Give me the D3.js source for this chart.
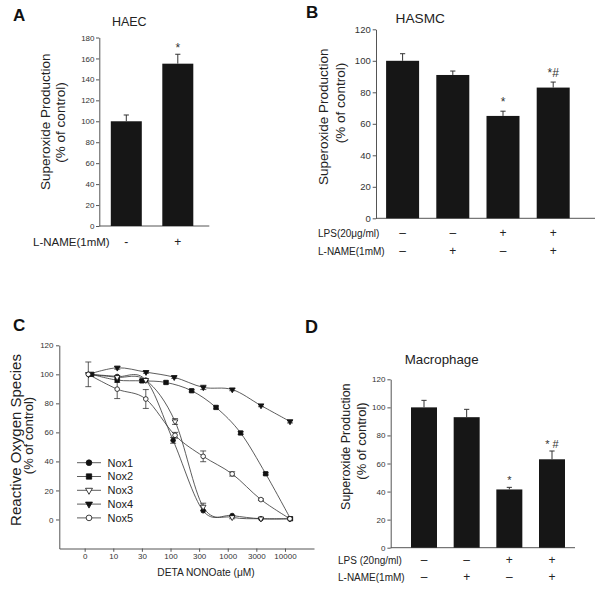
<!DOCTYPE html>
<html><head><meta charset="utf-8">
<script src="https://cdn.jsdelivr.net/npm/d3@7"></script>
<style>
body{margin:0;background:#fff}
svg{display:block;font-family:"Liberation Sans",Arial,Helvetica,sans-serif}
</style>
</head><body>
<svg id="chart" width="600" height="592"></svg>
<script>
// ---------------- DATA ----------------
// Panel A (HAEC)
const aValues = [100, 155];
const aErrTop = [106, 164];
const aMarks = ["", "*"];
const aLName = ["-", "+"];
const aTicks = [0, 20, 40, 60, 80, 100, 120, 140, 160, 180];

// Panel B (HASMC)
const bValues = [100, 91, 65, 83];
const bErrTop = [104.5, 93.5, 68, 86.5];
const bMarks = ["", "", "*", "*#"];
const bLPS = ["\u2013", "\u2013", "+", "+"];
const bLName = ["\u2013", "+", "\u2013", "+"];
const bTicks = [0, 20, 40, 60, 80, 100, 120];

// Panel D (Macrophage)
const dValues = [100, 93, 41.5, 63];
const dErrTop = [105, 98.6, 43, 68.9];
const dMarks = ["", "", "*", "* #"];
const dLPS = ["\u2013", "\u2013", "+", "+"];
const dLName = ["\u2013", "+", "\u2013", "+"];
const dTicks = [0, 20, 40, 60, 80, 100, 120];

// Panel C (ROS vs DETA NONOate, log concentration axis)
const cTickPos = [3.16, 10, 31.6, 100, 316, 1000, 3160, 10000];
const cTickLabels = ["0", "10", "30", "100", "300", "1000", "3000", "10000"];
const cYTicks = [0, 20, 40, 60, 80, 100, 120];
const nox1X = [3.7, 11.7, 37, 111, 372, 1195, 3800, 12200];
const nox1Y = [100, 98.5, 96, 54.5, 6, 2.7, 0.5, 0.5];
const nox1E = [0, 0, 0, 2, 0, 0, 0, 0];
const nox2X = [4.2, 11.7, 31.7, 83.4, 234, 624, 1680, 4600, 12480];
const nox2Y = [100, 96, 95.5, 94.4, 88.7, 77.2, 59.6, 31.5, 0.5];
const nox2E = [0, 1.5, 1, 1, 0.8, 1, 1, 0.8, 0];
const nox3X = [3.7, 11.7, 37, 120, 372, 1195, 3800, 12200];
const nox3Y = [100, 98, 96, 67.5, 8.7, 1.5, 0.5, 0.5];
const nox3E = [0, 0, 0, 2, 2.5, 1, 0, 0];
const nox4X = [3.7, 11.75, 37.3, 116, 374, 1200, 3810, 12250];
const nox4Y = [100, 104.5, 101.5, 98, 91, 89.5, 78.5, 67.5];
const nox4E = [0, 1, 0.8, 0.8, 1.5, 0.8, 0.8, 1];
const nox5X = [3.66, 11.7, 37, 120, 372, 1195, 3800, 12200];
const nox5Y = [100, 89.8, 83, 58, 43.5, 31.4, 13.7, 0.5];
const nox5E = [8.5, 6.5, 6.5, 2, 3.7, 1.5, 0.5, 0];
const seriesNames = ["Nox1", "Nox2", "Nox3", "Nox4", "Nox5"];

// ---------------- DRAWING ----------------
const svg = d3.select("#chart");
const AX = "#555", TXT = "#222", BAR = "#161616";

function styleAxis(sel, fs) {
  sel.attr("font-family", null).attr("font-size", fs);
  sel.select(".domain").attr("stroke", AX);
  sel.selectAll(".tick line").attr("stroke", AX);
  sel.selectAll(".tick text").attr("fill", "#333");
}

function text(g, str, x, y, opt = {}) {
  const t = g.append("text").attr("x", x).attr("y", y).text(str)
    .attr("font-size", opt.fs || 11).attr("fill", opt.fill || TXT)
    .attr("text-anchor", opt.anchor || "start");
  if (opt.bold) t.attr("font-weight", "bold");
  return t;
}
function vtext(g, str, bx, cy, fs) {
  g.append("text").attr("transform", `translate(${bx},${cy}) rotate(-90)`)
    .attr("text-anchor", "middle").attr("font-size", fs).attr("fill", TXT).text(str);
}

function barPanel(o) {
  const g = svg.append("g");
  const y = d3.scaleLinear().domain([0, o.yMax]).range([o.y0, o.y1]);
  const x = d3.scalePoint().domain(d3.range(o.values.length)).range([o.c0, o.c1]);
  const ax = g.append("g").attr("transform", `translate(${o.ax},0)`)
    .call(d3.axisLeft(y).tickValues(o.ticks).tickSize(3.3).tickSizeOuter(0).tickPadding(o.pad));
  styleAxis(ax, o.tickFs);
  g.append("line").attr("x1", o.ax).attr("x2", o.axEnd)
    .attr("y1", y(0)).attr("y2", y(0)).attr("stroke", AX);
  g.selectAll(".bar").data(o.values).join("rect").attr("class", "bar")
    .attr("x", (d, i) => x(i) - o.bw / 2).attr("width", o.bw)
    .attr("y", d => y(d)).attr("height", d => y(0) - y(d)).attr("fill", BAR);
  const eb = g.selectAll(".eb").data(o.errTop).join("g").attr("class", "eb")
    .attr("stroke", "#333").attr("stroke-width", 1);
  eb.append("line").attr("x1", (d, i) => x(i)).attr("x2", (d, i) => x(i))
    .attr("y1", (d, i) => y(o.values[i])).attr("y2", d => y(d));
  eb.append("line").attr("x1", (d, i) => x(i) - 2.6).attr("x2", (d, i) => x(i) + 2.6)
    .attr("y1", d => y(d)).attr("y2", d => y(d));
  o.marks.forEach((m, i) => {
    if (m) text(g, m, x(i) + (o.markDx || 0), y(o.errTop[i]) - o.markGap,
      { fs: o.markFs, anchor: "middle", fill: "#333" });
  });
  o.rows.forEach(r => {
    text(g, r.label, o.rowX, r.y, { fs: o.rowFs });
    r.signs.forEach((s, i) => text(g, s, x(i), r.y, { fs: o.signFs, anchor: "middle" }));
  });
  text(g, o.title, o.titleX, o.titleY, { fs: o.titleFs, anchor: "middle" });
  text(g, o.letter, o.letterX, o.letterY, { fs: o.letterFs, bold: true, fill: "#111" });
  vtext(g, "Superoxide Production", o.l1x, o.l1y, o.labFs);
  vtext(g, "(% of control)", o.l2x, o.l2y, o.labFs2 || o.labFs);
  return g;
}

// Panel A
barPanel({
  values: aValues, errTop: aErrTop, marks: aMarks, ticks: aTicks, yMax: 180,
  y0: 226, y1: 37.5, c0: 126.3, c1: 177.8, bw: 31, ax: 99.3, axEnd: 209.3,
  pad: 1.5, tickFs: 8, markGap: 2.5, markFs: 12,
  rows: [{ label: "L-NAME(1mM)", y: 246, signs: aLName }], rowX: 33, rowFs: 11.5, signFs: 12,
  title: "HAEC", titleX: 129.3, titleY: 26, titleFs: 12.5,
  letter: "A", letterX: 13, letterY: 20.7, letterFs: 17,
  l1x: 49.5, l1y: 121.7, l2x: 65, l2y: 122.5, labFs: 13.5
});

// Panel B
barPanel({
  values: bValues, errTop: bErrTop, marks: bMarks, ticks: bTicks, yMax: 120,
  y0: 218.3, y1: 29.3, c0: 402.6, c1: 553.2, bw: 33, ax: 376, axEnd: 595,
  pad: 2, tickFs: 9.5, markGap: 5.5, markFs: 12,
  rows: [{ label: "LPS(20\u03bcg/ml)", y: 236.8, signs: bLPS },
         { label: "L-NAME(1mM)", y: 254.8, signs: bLName }], rowX: 318, rowFs: 10, signFs: 12,
  title: "HASMC", titleX: 420.3, titleY: 22.7, titleFs: 13.7,
  letter: "B", letterX: 306, letterY: 18.3, letterFs: 17,
  l1x: 328, l1y: 116.7, l2x: 345, l2y: 103, labFs: 13.5
});

// Panel D
barPanel({
  values: dValues, errTop: dErrTop, marks: dMarks, ticks: dTicks, yMax: 120,
  y0: 547.7, y1: 379.3, c0: 424, c1: 552, bw: 26, ax: 390.7, axEnd: 575,
  pad: 2, tickFs: 8, markGap: 3, markFs: 11,
  rows: [{ label: "LPS (20ng/ml)", y: 563.8, signs: dLPS },
         { label: "L-NAME(1mM)", y: 580.8, signs: dLName }], rowX: 338, rowFs: 10, signFs: 12,
  title: "Macrophage", titleX: 441.7, titleY: 364, titleFs: 13.3,
  letter: "D", letterX: 305, letterY: 332.7, letterFs: 18,
  l1x: 349.6, l1y: 446.7, l2x: 366, l2y: 441, labFs: 12.5, labFs2: 13
});

// Panel C
(function () {
  const g = svg.append("g");
  const x = d3.scaleLog().domain([1.139, 32150]).range([59.3, 314]);
  const y = d3.scaleLinear().domain([-20, 120]).range([548.5, 345.3]);
  const ay = g.append("g").attr("transform", "translate(59.3,0)")
    .call(d3.axisLeft(y).tickValues(cYTicks).tickSize(3.3).tickSizeOuter(0).tickPadding(2.5));
  styleAxis(ay, 8);
  const axg = g.append("g").attr("transform", `translate(0,${y(-20)})`)
    .call(d3.axisBottom(x).tickValues(cTickPos).tickFormat((d, i) => cTickLabels[i])
      .tickSize(3.3).tickSizeOuter(0).tickPadding(1.5));
  styleAxis(axg, 8);

  const series = [
    { name: seriesNames[0], xs: nox1X, ys: nox1Y, es: nox1E, sym: d3.symbolCircle, size: 17, fill: "#111", rot: 0 },
    { name: seriesNames[1], xs: nox2X, ys: nox2Y, es: nox2E, sym: d3.symbolSquare, size: 19, fill: "#111", rot: 0 },
    { name: seriesNames[2], xs: nox3X, ys: nox3Y, es: nox3E, sym: d3.symbolTriangle, size: 14, fill: "#fff", rot: 180 },
    { name: seriesNames[3], xs: nox4X, ys: nox4Y, es: nox4E, sym: d3.symbolTriangle, size: 14, fill: "#111", rot: 180 },
    { name: seriesNames[4], xs: nox5X, ys: nox5Y, es: nox5E, sym: d3.symbolCircle, size: 17, fill: "#fff", rot: 0 }
  ];
  const line = d3.line().curve(d3.curveCardinal.tension(0)).x(d => x(d[0])).y(d => y(d[1]));
  series.forEach(s => {
    const pts = s.xs.map((v, i) => [v, s.ys[i], s.es[i]]);
    g.append("path").datum(pts).attr("d", line).attr("fill", "none")
      .attr("stroke", "#333").attr("stroke-width", 0.8);
  });
  series.forEach(s => {
    const pts = s.xs.map((v, i) => [v, s.ys[i], s.es[i]]);
    const eg = g.append("g").attr("stroke", "#333").attr("stroke-width", 0.8);
    pts.filter(p => p[2] > 0).forEach(p => {
      const cx = x(p[0]), t = y(p[1] + p[2]), b = y(p[1] - p[2]);
      eg.append("line").attr("x1", cx).attr("x2", cx).attr("y1", t).attr("y2", b);
      eg.append("line").attr("x1", cx - 3).attr("x2", cx + 3).attr("y1", t).attr("y2", t);
      eg.append("line").attr("x1", cx - 3).attr("x2", cx + 3).attr("y1", b).attr("y2", b);
    });
  });
  series.forEach(s => {
    const pts = s.xs.map((v, i) => [v, s.ys[i]]);
    g.selectAll(null).data(pts).join("path")
      .attr("transform", d => `translate(${x(d[0])},${y(d[1])}) rotate(${s.rot})`)
      .attr("d", d3.symbol(s.sym, s.size)).attr("fill", s.fill)
      .attr("stroke", "#111").attr("stroke-width", 0.8);
  });
  // legend
  series.forEach((s, i) => {
    const cy = 462.7 + i * 13.8;
    g.append("line").attr("x1", 77).attr("x2", 101).attr("y1", cy).attr("y2", cy)
      .attr("stroke", "#333").attr("stroke-width", 0.8);
    g.append("path").attr("transform", `translate(89,${cy}) rotate(${s.rot})`)
      .attr("d", d3.symbol(s.sym, s.size * 1.5)).attr("fill", s.fill)
      .attr("stroke", "#111").attr("stroke-width", 0.8);
    text(g, s.name, 107.5, cy + 3.9, { fs: 11 });
  });
  text(g, "DETA NONOate (\u03bcM)", 206, 576, { fs: 10.2, anchor: "middle" });
  text(g, "C", 13, 330.7, { fs: 17, bold: true, fill: "#111" });
  vtext(g, "Reactive Oxygen Species", 20.7, 440, 15);
  vtext(g, "(% of control)", 33, 435.5, 13);
})();
</script>
</body></html>
